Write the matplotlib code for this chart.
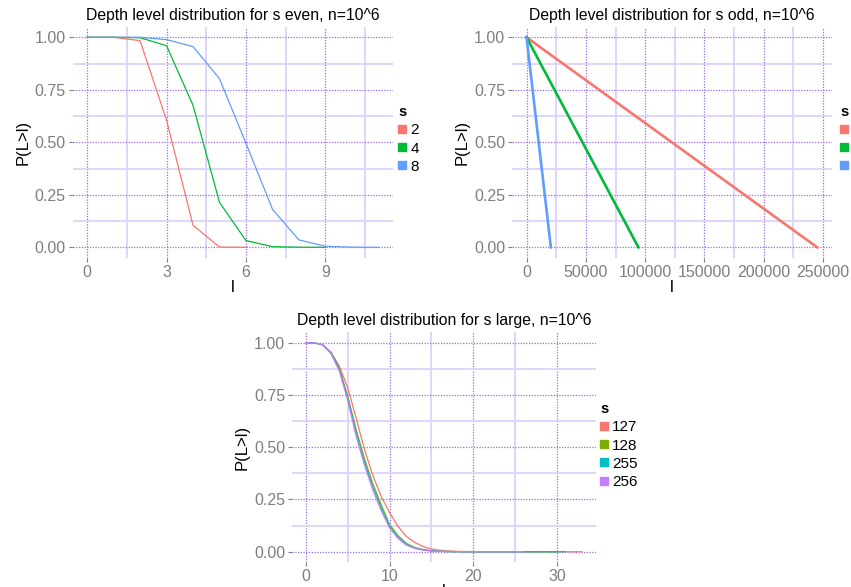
import matplotlib
matplotlib.use("Agg")
import matplotlib.pyplot as plt
from matplotlib.ticker import FixedLocator

plt.rcParams['font.family'] = ['Liberation Sans', 'DejaVu Sans']

# ---- data: s even ----
even_s = ["2", "4", "8"]
even_l2 = [0, 1, 2, 3, 4, 5, 6]
even_p2 = [1.0, 1.0, 0.984, 0.606, 0.105, 0.001, 0.0]
even_l4 = [0, 1, 2, 3, 4, 5, 6, 7, 8, 9]
even_p4 = [1.0, 1.0, 0.998, 0.96, 0.676, 0.214, 0.032, 0.003, 0.0005, 0.0]
even_l8 = [0, 1, 2, 3, 4, 5, 6, 7, 8, 9, 10, 11]
even_p8 = [1.0, 1.0, 1.0, 0.989, 0.956, 0.803, 0.495, 0.181, 0.035, 0.005, 0.0005, 0.0]

# ---- data: s odd ----
odd_s = ["1", "3", "7"]
odd_l1 = [0, 245000]
odd_p1 = [1.0, 0.0]
odd_l3 = [0, 94300]
odd_p3 = [1.0, 0.0]
odd_l7 = [0, 20500]
odd_p7 = [1.0, 0.0]

# ---- data: s large ----
large_s = ["127", "128", "255", "256"]
large_l127 = list(range(0, 34))
large_p127 = [1.0, 0.999, 0.99, 0.955, 0.888, 0.785, 0.64, 0.49, 0.365, 0.265, 0.187, 0.122,
              0.073, 0.045, 0.025, 0.013, 0.007, 0.004, 0.002, 0.001, 0.0006, 0.0003, 0.0002,
              0.0001, 0.0, 0.0, 0.0, 0.0, 0.0, 0.0, 0.0, 0.0, 0.0, 0.0]
large_l128 = list(range(0, 31))
large_p128 = [1.0, 0.999, 0.99, 0.952, 0.878, 0.745, 0.585, 0.445, 0.325, 0.225, 0.13, 0.078,
              0.04, 0.02, 0.011, 0.005, 0.002, 0.001, 0.0005, 0.0002, 0.0001, 0.0, 0.0, 0.0,
              0.0, 0.0, 0.0, 0.0, 0.0, 0.0, 0.0]
large_l255 = list(range(0, 32))
large_p255 = [1.0, 0.999, 0.99, 0.95, 0.872, 0.735, 0.57, 0.43, 0.31, 0.21, 0.122, 0.07,
              0.036, 0.018, 0.009, 0.004, 0.002, 0.001, 0.0005, 0.0002, 0.0001, 0.0, 0.0, 0.0,
              0.0, 0.0, 0.0, 0.0, 0.0, 0.0, 0.0, 0.0]
large_l256 = list(range(0, 27))
large_p256 = [1.0, 0.999, 0.99, 0.948, 0.865, 0.725, 0.555, 0.415, 0.295, 0.198, 0.114, 0.064,
              0.032, 0.016, 0.008, 0.004, 0.002, 0.001, 0.0005, 0.0002, 0.0001, 0.0, 0.0, 0.0,
              0.0, 0.0, 0.0]

C3 = ["#F8766D", "#00BA38", "#619CFF"]
C4 = ["#F8766D", "#7CAE00", "#00BFC4", "#C77CFF"]
MAJ = "#9A6CF0"
MIN = "#DDD2F8"
TICKC = "#7F7F7F"

fig = plt.figure(figsize=(8.51, 5.87), dpi=100)
W, H = 851.0, 587.0


def add_ax(l, t, r, b):
    return fig.add_axes([l / W, 1 - b / H, (r - l) / W, (b - t) / H])


def style(ax, xmaj, xmin, xlim, title, xlabels=None):
    ax.set_xlim(*xlim)
    ax.set_ylim(-0.05, 1.05)
    for sp in ax.spines.values():
        sp.set_visible(False)
    ax.xaxis.set_major_locator(FixedLocator(xmaj))
    ax.xaxis.set_minor_locator(FixedLocator(xmin))
    yt = [0, 0.25, 0.5, 0.75, 1.0]
    ax.yaxis.set_major_locator(FixedLocator(yt))
    ax.yaxis.set_minor_locator(FixedLocator([0.125, 0.375, 0.625, 0.875]))
    ax.set_yticklabels(["0.00", "0.25", "0.50", "0.75", "1.00"])
    if xlabels is not None:
        ax.set_xticklabels(xlabels)
    ax.grid(True, which='minor', color=MIN, linewidth=1.3, linestyle='-')
    ax.grid(True, which='major', color=MAJ, linewidth=0.9, linestyle=(0, (1, 1.2)))
    ax.set_axisbelow(True)
    ax.tick_params(which='major', length=3, color=TICKC, labelcolor=TICKC,
                   labelsize=11.5, width=0.8, pad=2)
    ax.tick_params(which='minor', length=0)
    ax.set_title(title, fontsize=11.3, pad=5, color='black')
    ax.set_ylabel("P(L>l)", fontsize=12, labelpad=3)
    ax.set_xlabel("l", fontsize=12, labelpad=0)


def legend(ax, labels, handles, x, y):
    lg = ax.legend(handles, labels, title="s", loc='upper left', bbox_to_anchor=(x, y),
                   bbox_transform=fig.transFigure, frameon=False, fontsize=11,
                   title_fontproperties={'weight': 'bold', 'size': 10.5},
                   handlelength=0.55, handleheight=0.45, handletextpad=0.25,
                   labelspacing=0.28, borderpad=0, borderaxespad=0)
    lg._legend_box.align = "left"
    return lg


# ---- top-left ----
ax1 = add_ax(72.5, 26.8, 393, 257.8)
for lx, py, c in [(even_l2, even_p2, C3[0]), (even_l4, even_p4, C3[1]), (even_l8, even_p8, C3[2])]:
    ax1.plot(lx, py, color=c, lw=0.9)
style(ax1, [0, 3, 6, 9], [1.5, 4.5, 7.5, 10.5], (-0.55, 11.55),
      "Depth level distribution for s even, n=10^6", ["0", "3", "6", "9"])
hk = [plt.Rectangle((0, 0), 1, 1, color=c) for c in C3]
legend(ax1, even_s, hk, 398 / W, 1 - 105 / H)

# ---- top-right ----
ax2 = add_ax(512, 26.8, 831.7, 257.8)
for lx, py, c in [(odd_l1, odd_p1, C3[0]), (odd_l3, odd_p3, C3[1]), (odd_l7, odd_p7, C3[2])]:
    ax2.plot(lx, py, color=c, lw=1.9)
style(ax2, [0, 50000, 100000, 150000, 200000, 250000],
      [25000, 75000, 125000, 175000, 225000], (-12250, 257250),
      "Depth level distribution for s odd, n=10^6",
      ["0", "50000", "100000", "150000", "200000", "250000"])
legend(ax2, odd_s, hk, 840 / W, 1 - 105 / H)

# ---- bottom ----
ax3 = add_ax(292, 332.2, 596, 562.2)
for lx, py, c in [(large_l127, large_p127, C4[0]), (large_l128, large_p128, C4[1]),
                  (large_l255, large_p255, C4[2]), (large_l256, large_p256, C4[3])]:
    ax3.plot(lx, py, color=c, lw=0.9)
style(ax3, [0, 10, 20, 30], [5, 15, 25], (-1.65, 34.65),
      "Depth level distribution for s large, n=10^6", ["0", "10", "20", "30"])
hk4 = [plt.Rectangle((0, 0), 1, 1, color=c) for c in C4]
legend(ax3, large_s, hk4, 600 / W, 1 - 402 / H)

fig.savefig("out.png", dpi=100, facecolor='white')
